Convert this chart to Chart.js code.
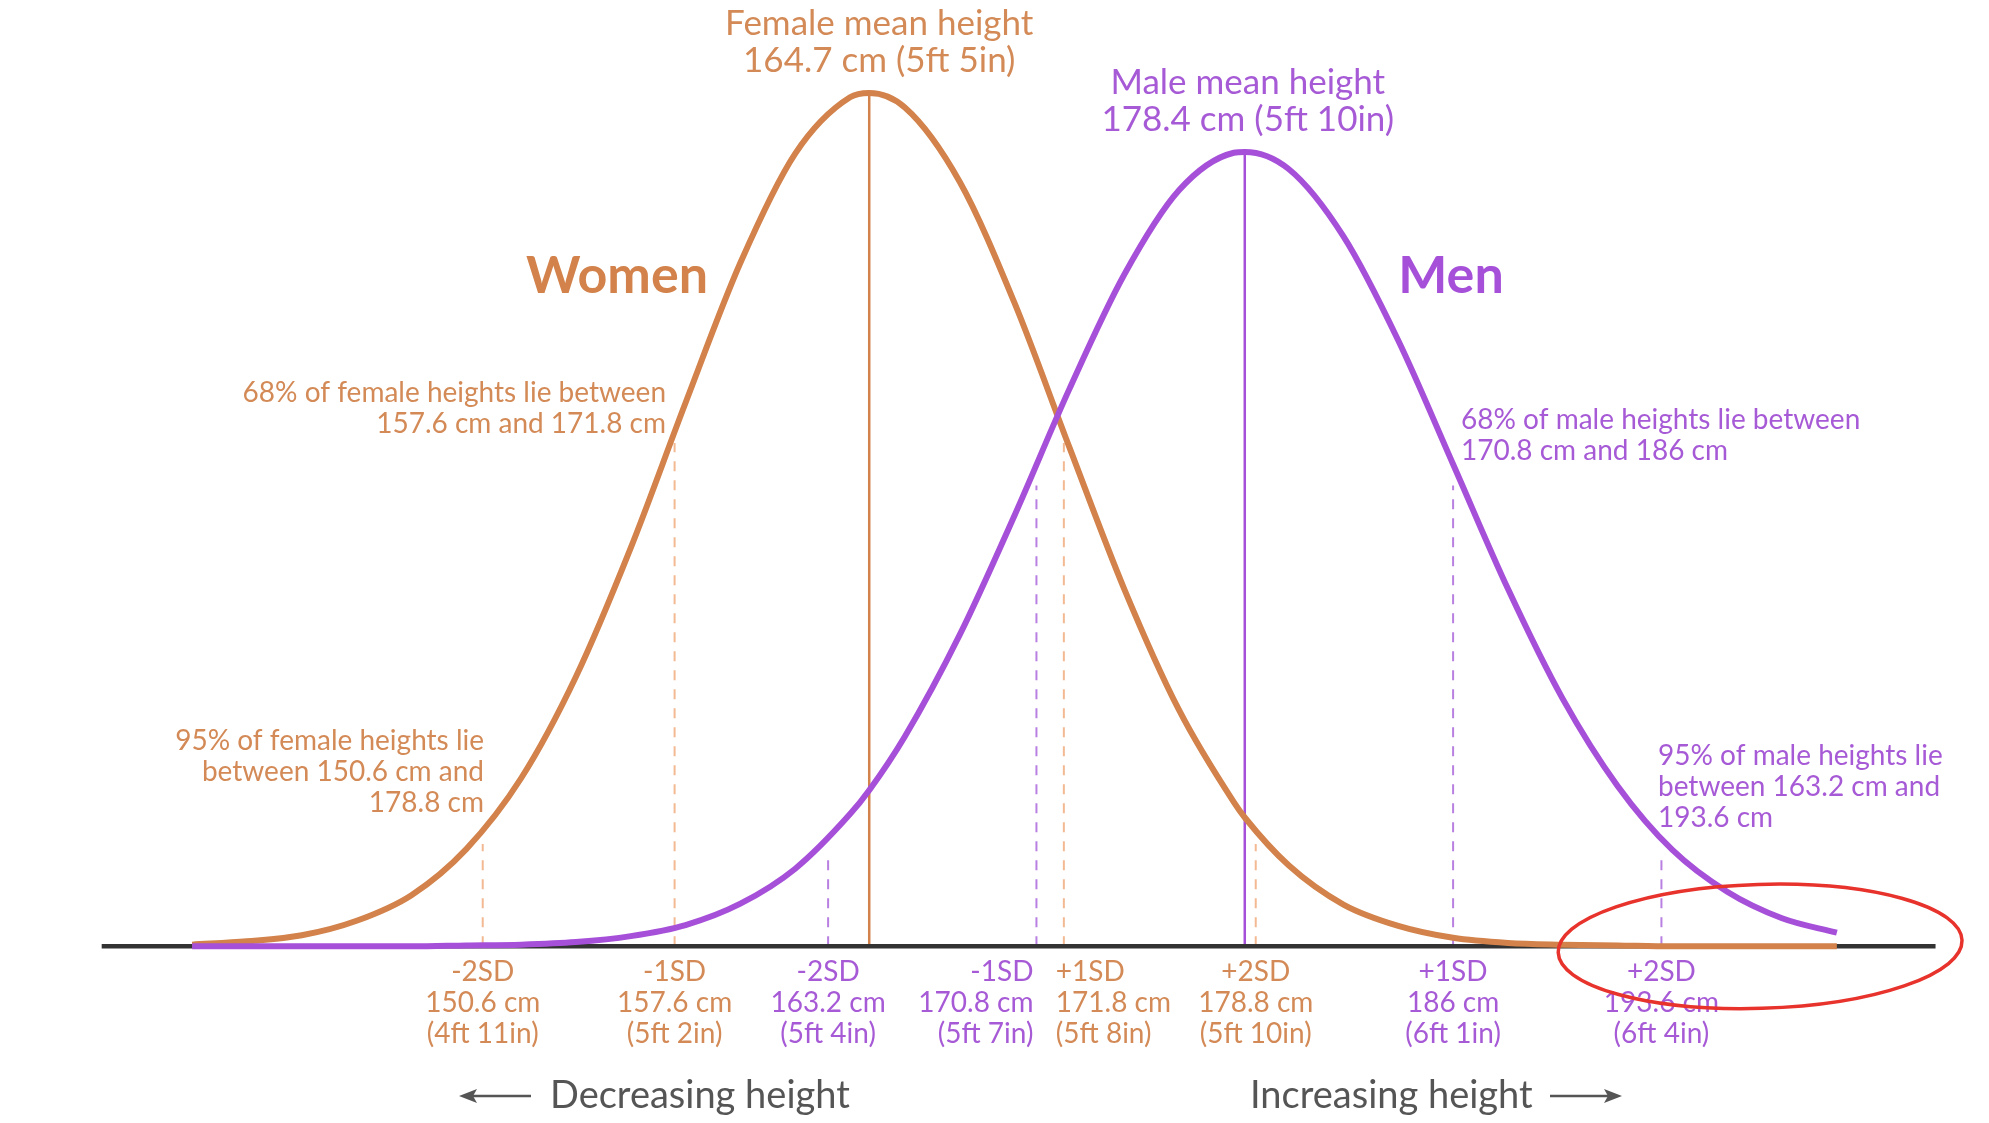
<!DOCTYPE html>
<html>
<head>
<meta charset="utf-8">
<script src="https://cdn.jsdelivr.net/npm/chart.js@4"></script>
<style>
  html, body { margin: 0; padding: 0; background: #fff; }
  #wrap { width: 1989px; height: 1123px; }
</style>
</head>
<body>
<div id="wrap"><canvas id="myChart"></canvas></div>
<script>
// heights in cm
const heights = [140,142,144,146,148,150,152,154,156,158,160,162,164,164.7,166,168,170,172,174,176,178,178.4,180,182,184,186,188,190,192,194,196,198,200];
// curve heights, female peak = 100
const femaleCurve = [0.2,0.6,1.3,3.0,6.0,11.4,19.7,31.6,46.7,63.7,80.1,92.9,99.5,100,98.3,89.6,75.4,58.5,41.9,27.7,16.9,15.1,9.5,4.9,2.4,1.0,0.4,0.2,0.1,0,0,0,0];
const maleCurve = [0,0,0,0,0,0.1,0.2,0.5,1.2,2.5,5.0,9.1,15.5,18.3,24.6,36.5,50.5,65.3,78.7,88.6,93.0,93.1,91.1,83.2,71.0,56.5,41.9,29.0,18.8,11.3,6.4,3.3,1.6];

const femaleMean = 164.7, femalePeak = 100;
const maleMean = 178.4, malePeak = 93.1;

const sdTags = ['-2SD', '-1SD', '+1SD', '+2SD'];
const femaleSd = [150.6, 157.6, 171.8, 178.8];
const femaleSdTop = [12, 59, 59, 12];
const femaleCm = ['150.6 cm', '157.6 cm', '171.8 cm', '178.8 cm'];
const femaleFtIn = ['(4ft 11in)', '(5ft 2in)', '(5ft 8in)', '(5ft 10in)'];
const maleSd = [163.2, 170.8, 186, 193.6];
const maleSdTop = [11, 54, 54, 11];
const maleCm = ['163.2 cm', '170.8 cm', '186 cm', '193.6 cm'];
const maleFtIn = ['(5ft 4in)', '(5ft 7in)', '(6ft 1in)', '(6ft 4in)'];

const axisRange = [136.7, 203.6];

const ORANGE = '#d2824a';
const ORANGE_TXT = '#d38a56';
const ORANGE_DASH = '#f3b992';
const PURPLE = '#a650d9';
const PURPLE_TXT = '#a75ad6';
const PURPLE_DASH = '#b980e2';
const GREY = '#555555';

function pts(xs, ys) {
  return xs.map((x, i) => ({ x: x, y: ys[i] }));
}

const datasets = [];
datasets.push({ data: pts(heights, maleCurve), borderColor: PURPLE, borderWidth: 6, order: 0, cubicInterpolationMode: 'monotone' });
datasets.push({ data: pts(heights, femaleCurve), borderColor: ORANGE, borderWidth: 6, order: 1, cubicInterpolationMode: 'monotone' });
datasets.push({ data: [{ x: axisRange[0], y: 0 }, { x: axisRange[1], y: 0 }], borderColor: '#333', borderWidth: 4.5, order: 2 });
datasets.push({ data: [{ x: maleMean, y: 0 }, { x: maleMean, y: malePeak }], borderColor: PURPLE, borderWidth: 2.5, order: 3 });
datasets.push({ data: [{ x: femaleMean, y: 0 }, { x: femaleMean, y: femalePeak }], borderColor: ORANGE, borderWidth: 2.5, order: 3 });
femaleSd.forEach((v, i) => {
  datasets.push({ data: [{ x: v, y: 0 }, { x: v, y: femaleSdTop[i] }], borderColor: ORANGE_DASH, borderWidth: 2, borderDash: [10, 9], order: 4 });
});
maleSd.forEach((v, i) => {
  datasets.push({ data: [{ x: v, y: 0 }, { x: v, y: maleSdTop[i] }], borderColor: PURPLE_DASH, borderWidth: 2, borderDash: [10, 9], order: 4 });
});

function lines(ctx, arr, x, y0, step, align) {
  ctx.textAlign = align;
  arr.forEach((t, i) => ctx.fillText(t, x, y0 + i * step));
}

function arrow(ctx, x1, x2, y) {
  const dir = Math.sign(x2 - x1);
  ctx.strokeStyle = GREY;
  ctx.fillStyle = GREY;
  ctx.lineWidth = 2.5;
  ctx.beginPath();
  ctx.moveTo(x1, y);
  ctx.lineTo(x2 - dir * 10, y);
  ctx.stroke();
  ctx.beginPath();
  ctx.moveTo(x2, y);
  ctx.lineTo(x2 - dir * 18, y - 7);
  ctx.lineTo(x2 - dir * 14, y);
  ctx.lineTo(x2 - dir * 18, y + 7);
  ctx.closePath();
  ctx.fill();
}

const labelsPlugin = {
  id: 'labels',
  afterDatasetsDraw(chart) {
    const ctx = chart.ctx;
    const px = v => chart.scales.x.getPixelForValue(v);
    const py = v => chart.scales.y.getPixelForValue(v);
    ctx.save();
    ctx.textBaseline = 'alphabetic';

    // mean titles
    ctx.font = '35px Lato';
    ctx.fillStyle = ORANGE_TXT;
    lines(ctx, ['Female mean height', '164.7 cm (5ft 5in)'], px(femaleMean) + 10, 35, 37, 'center');
    ctx.fillStyle = PURPLE_TXT;
    lines(ctx, ['Male mean height', '178.4 cm (5ft 10in)'], px(maleMean) + 3, 94, 37, 'center');

    // group names
    ctx.font = 'bold 52px Lato';
    ctx.fillStyle = ORANGE;
    ctx.textAlign = 'center';
    ctx.fillText('Women', 617, 293);
    ctx.fillStyle = PURPLE;
    ctx.fillText('Men', 1451, 293);

    // range notes
    ctx.font = '28px Lato';
    ctx.fillStyle = ORANGE_TXT;
    lines(ctx, ['68% of female heights lie between', '157.6 cm and 171.8 cm'], 666, 402, 31, 'right');
    lines(ctx, ['95% of female heights lie', 'between 150.6 cm and', '178.8 cm'], 484, 750, 31, 'right');
    ctx.fillStyle = PURPLE_TXT;
    lines(ctx, ['68% of male heights lie between', '170.8 cm and 186 cm'], 1461, 429, 31, 'left');
    lines(ctx, ['95% of male heights lie', 'between 163.2 cm and', '193.6 cm'], 1658, 765, 31, 'left');

    // SD labels under the axis
    const base = py(0) + 35;
    femaleSd.forEach((v, i) => {
      ctx.fillStyle = ORANGE_TXT;
      let x = px(v), align = 'center';
      if (i === 2) { x -= 8; align = 'left'; }
      lines(ctx, [sdTags[i], femaleCm[i], femaleFtIn[i]], x, base, 31, align);
    });
    maleSd.forEach((v, i) => {
      ctx.fillStyle = PURPLE_TXT;
      let x = px(v), align = 'center';
      if (i === 1) { x -= 3; align = 'right'; }
      lines(ctx, [sdTags[i], maleCm[i], maleFtIn[i]], x, base, 31, align);
    });

    // direction hints
    ctx.font = '38px Lato';
    ctx.fillStyle = GREY;
    ctx.textAlign = 'left';
    ctx.fillText('Decreasing height', 550, 1108);
    ctx.fillText('Increasing height', 1250, 1108);
    arrow(ctx, 531, 459, 1096);
    arrow(ctx, 1550, 1622, 1096);

    // red highlight ellipse
    ctx.strokeStyle = '#e8322c';
    ctx.lineWidth = 3.5;
    ctx.beginPath();
    ctx.ellipse(px(197.2), py(0), 202, 62, -0.03, 0, Math.PI * 2);
    ctx.stroke();
    ctx.restore();
  }
};

const ctx = document.getElementById('myChart').getContext('2d');
new Chart(ctx, {
  type: 'line',
  data: { datasets: datasets },
  options: {
    responsive: true,
    maintainAspectRatio: false,
    animation: false,
    elements: { point: { radius: 0 }, line: { fill: false } },
    layout: { padding: 0 },
    scales: {
      x: { type: 'linear', min: 132.99, max: 205.55, display: false },
      y: { min: -20.7, max: 110.9, display: false }
    },
    plugins: {
      legend: { display: false },
      tooltip: { enabled: false }
    }
  },
  plugins: [labelsPlugin]
});
</script>
</body>
</html>
